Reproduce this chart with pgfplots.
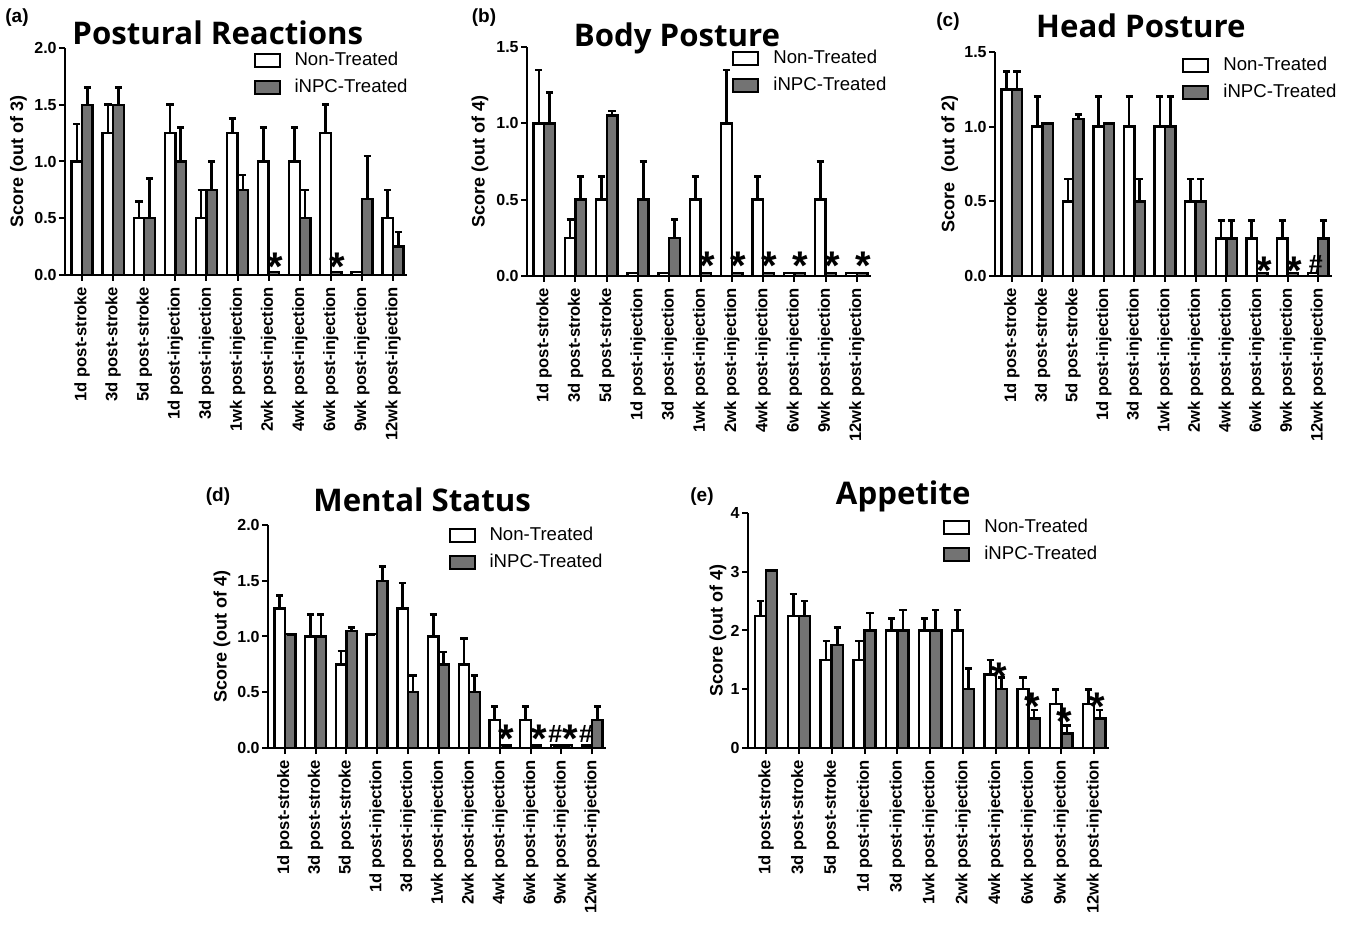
\documentclass[border=0pt]{standalone}
\usepackage{fontspec}
\setmainfont{Liberation Sans}
\newfontfamily\titlefont{Open Sans}
\usepackage{pgfplots}
\usepackage{pgfplotstable}
\pgfplotsset{compat=1.18}
\definecolor{barfill}{gray}{0.45}

% xn / xt: bar centres of the two groups around category x
\pgfplotstableread{
x xn xt nt nte t te
0 -0.17 0.17 1.00 0.33 1.50 0.15
1 0.83 1.17 1.25 0.25 1.50 0.15
2 1.83 2.17 0.50 0.15 0.50 0.35
3 2.83 3.17 1.25 0.25 1.00 0.30
4 3.83 4.17 0.50 0.25 0.75 0.25
5 4.83 5.17 1.25 0.13 0.75 0.13
6 5.83 6.17 1.00 0.30 0.025 0
7 6.83 7.17 1.00 0.30 0.50 0.25
8 7.83 8.17 1.25 0.25 0.025 0
9 8.83 9.17 0.025 0 0.67 0.38
10 9.83 10.17 0.50 0.25 0.25 0.13
}\tabA
\pgfplotstableread{
x xn xt nt nte t te
0 -0.17 0.17 1.00 0.35 1.00 0.20
1 0.83 1.17 0.25 0.12 0.50 0.15
2 1.83 2.17 0.50 0.15 1.05 0.03
3 2.83 3.17 0.02 0 0.50 0.25
4 3.83 4.17 0.02 0 0.25 0.12
5 4.83 5.17 0.50 0.15 0.02 0
6 5.83 6.17 1.00 0.35 0.02 0
7 6.83 7.17 0.50 0.15 0.02 0
8 7.83 8.17 0.02 0 0.02 0
9 8.83 9.17 0.50 0.25 0.02 0
10 9.83 10.17 0.02 0 0.02 0
}\tabB
\pgfplotstableread{
x xn xt nt nte t te
0 -0.17 0.17 1.25 0.12 1.25 0.12
1 0.83 1.17 1.00 0.20 1.02 0
2 1.83 2.17 0.50 0.15 1.05 0.03
3 2.83 3.17 1.00 0.20 1.02 0
4 3.83 4.17 1.00 0.20 0.50 0.15
5 4.83 5.17 1.00 0.20 1.00 0.20
6 5.83 6.17 0.50 0.15 0.50 0.15
7 6.83 7.17 0.25 0.12 0.25 0.12
8 7.83 8.17 0.25 0.12 0.02 0
9 8.83 9.17 0.25 0.12 0.02 0
10 9.83 10.17 0.02 0 0.25 0.12
}\tabC
\pgfplotstableread{
x xn xt nt nte t te
0 -0.17 0.17 1.25 0.12 1.02 0
1 0.83 1.17 1.00 0.20 1.00 0.20
2 1.83 2.17 0.75 0.12 1.05 0.03
3 2.83 3.17 1.02 0 1.50 0.13
4 3.83 4.17 1.25 0.23 0.50 0.15
5 4.83 5.17 1.00 0.20 0.75 0.11
6 5.83 6.17 0.75 0.23 0.50 0.15
7 6.83 7.17 0.25 0.12 0.025 0
8 7.83 8.17 0.25 0.12 0.025 0
9 8.83 9.17 0.025 0 0.025 0
10 9.83 10.17 0.025 0 0.25 0.12
}\tabD
\pgfplotstableread{
x xn xt nt nte t te
0 -0.17 0.17 2.25 0.25 3.02 0
1 0.83 1.17 2.25 0.37 2.25 0.25
2 1.83 2.17 1.50 0.32 1.75 0.30
3 2.83 3.17 1.50 0.32 2.00 0.30
4 3.83 4.17 2.00 0.20 2.00 0.35
5 4.83 5.17 2.00 0.20 2.00 0.35
6 5.83 6.17 2.00 0.35 1.00 0.35
7 6.83 7.17 1.25 0.25 1.00 0.20
8 7.83 8.17 1.00 0.20 0.50 0.15
9 8.83 9.17 0.75 0.25 0.25 0.13
10 9.83 10.17 0.75 0.25 0.50 0.15
}\tabE

\tikzset{
  astn/.style={font=\bfseries\fontsize{20}{20}\selectfont, inner sep=0pt, anchor=north},
  hashn/.style={font=\bfseries\fontsize{12.5}{12.5}\selectfont, inner sep=0pt, anchor=north},
  plab/.style={font=\bfseries\fontsize{9.5}{10}\selectfont, inner sep=0pt, anchor=center},
}
\pgfplotsset{
  every axis title shift=0pt,
  panel/.style={
    scale only axis, clip=false,
    axis x line*=bottom, axis y line*=left,
    xmin=-0.55, xmax=10.45, ymin=0,
    xtick={0,...,10},
    xticklabels={1d post-stroke,3d post-stroke,5d post-stroke,1d post-injection,3d post-injection,1wk post-injection,2wk post-injection,4wk post-injection,6wk post-injection,9wk post-injection,12wk post-injection},
    x tick label style={rotate=90, anchor=east, font=\bfseries\fontsize{8.3}{9}\selectfont, inner sep=2.75pt},
    y tick label style={font=\bfseries\fontsize{8}{9}\selectfont, inner sep=1pt},
    /pgf/number format/assume math mode=true,
    yticklabel style={/pgf/number format/.cd, fixed, fixed zerofill, precision=1},
    tick align=outside, major tick length=3pt,
    every tick/.style={black, line width=1pt},
    axis line style={line width=1.1pt},
    ylabel style={font=\bfseries\fontsize{9}{10}\selectfont, anchor=center},
    title style={font=\titlefont\bfseries\fontsize{15.6}{15.6}\selectfont, anchor=base},
    legend style={draw=none, fill=none, anchor=north west, inner sep=0pt,
      font=\fontsize{9.3}{10}\selectfont, row sep=3.2pt,
      nodes={inner sep=1pt},
      /tikz/every odd column/.append style={column sep=6pt}},
    legend cell align=left,
  },
  mylegend/.style={legend image code/.code={\draw[##1,line width=1pt] (0pt,-3.3pt) rectangle (12.5pt,3.3pt);}},
  ntbar/.style={ybar, bar width=0.34, bar shift=0, fill=white, draw=black, line width=1.2pt, mylegend},
  tbar/.style={ybar, bar width=0.34, bar shift=0, fill=barfill, draw=black, line width=1.2pt, mylegend},
  eb/.style={error bars/y dir=plus, error bars/y explicit, error bars/error mark=|,
    error bars/error bar style={line width=1.3pt, black, solid},
    error bars/error mark options={line width=1.3pt, mark size=1.8pt, black, solid}},
}

\begin{document}
\begin{tikzpicture}
% (a)
\begin{axis}[panel, at={(32.5pt,326pt)}, anchor=south west, width=171pt, height=113.5pt,
  ymax=2.0, ytick={0,0.5,...,2.0},
  ylabel={Score (out of 3)}, ylabel style={at={(axis description cs:-0.136,0.5)}},
  title={Postural Reactions}, title style={at={(axis description cs:0.447,1)}, yshift=1.5pt},
  legend style={at={(axis description cs:0.55,0.991)}}]
\addplot[ntbar, eb] table[x=xn, y=nt, y error=nte] {\tabA};
\addplot[tbar, eb] table[x=xt, y=t, y error=te] {\tabA};
\legend{Non-Treated, iNPC-Treated}
\node[astn] at (axis cs:6.2,0.194) {*};
\node[astn] at (axis cs:8.2,0.194) {*};
\node[plab, xshift=-24pt, yshift=15pt] at (axis description cs:0,1) {(a)};
\end{axis}
% (b)
\begin{axis}[panel, at={(263.5pt,325.5pt)}, anchor=south west, width=172pt, height=114.5pt,
  ymax=1.5, ytick={0,0.5,...,1.5},
  ylabel={Score (out of 4)}, ylabel style={at={(axis description cs:-0.137,0.5)}},
  title={Body Posture}, title style={at={(axis description cs:0.436,1)}, yshift=0pt},
  legend style={at={(axis description cs:0.596,0.996)}}]
\addplot[ntbar, eb] table[x=xn, y=nt, y error=nte] {\tabB};
\addplot[tbar, eb] table[x=xt, y=t, y error=te] {\tabB};
\legend{Non-Treated, iNPC-Treated}
\node[astn] at (axis cs:5.2,0.157) {*};
\node[astn] at (axis cs:6.2,0.157) {*};
\node[astn] at (axis cs:7.2,0.157) {*};
\node[astn] at (axis cs:8.2,0.157) {*};
\node[astn] at (axis cs:9.2,0.157) {*};
\node[astn] at (axis cs:10.2,0.157) {*};
\node[plab, xshift=-21.5pt, yshift=14.5pt] at (axis description cs:0,1) {(b)};
\end{axis}
% (c)
\begin{axis}[panel, at={(497.5pt,325.5pt)}, anchor=south west, width=168.5pt, height=112pt,
  ymax=1.5, ytick={0,0.5,...,1.5},
  ylabel={Score\ \ (out of 2)}, ylabel style={at={(axis description cs:-0.134,0.5)}},
  title={Head Posture}, title style={at={(axis description cs:0.433,1)}, yshift=7pt},
  legend style={at={(axis description cs:0.555,0.987)}}]
\addplot[ntbar, eb] table[x=xn, y=nt, y error=nte] {\tabC};
\addplot[tbar, eb] table[x=xt, y=t, y error=te] {\tabC};
\legend{Non-Treated, iNPC-Treated}
\node[astn] at (axis cs:8.25,0.127) {*};
\node[astn] at (axis cs:9.22,0.127) {*};
\node[hashn] at (axis cs:9.92,0.14) {\#};
\node[plab, xshift=-23.5pt, yshift=15pt] at (axis description cs:0,1) {(c)};
\end{axis}
% (d)
\begin{axis}[panel, at={(134pt,89.5pt)}, anchor=south west, width=169pt, height=111.5pt,
  ymax=2.0, ytick={0,0.5,...,2.0},
  ylabel={Score (out of 4)}, ylabel style={at={(axis description cs:-0.136,0.5)}},
  title={Mental Status}, title style={at={(axis description cs:0.456,1)}, yshift=6.5pt},
  legend style={at={(axis description cs:0.533,1.0)}}]
\addplot[ntbar, eb] table[x=xn, y=nt, y error=nte] {\tabD};
\addplot[tbar, eb] table[x=xt, y=t, y error=te] {\tabD};
\legend{Non-Treated, iNPC-Treated}
\node[astn] at (axis cs:7.2,0.206) {*};
\node[astn] at (axis cs:8.28,0.206) {*};
\node[hashn] at (axis cs:8.8,0.206) {\#};
\node[astn] at (axis cs:9.28,0.206) {*};
\node[hashn] at (axis cs:9.8,0.206) {\#};
\node[plab, xshift=-25pt, yshift=14pt] at (axis description cs:0,1) {(d)};
\end{axis}
% (e)
\begin{axis}[panel, at={(374pt,89.5pt)}, anchor=south west, width=180.5pt, height=117.5pt,
  ymax=4, ytick={0,1,2,3,4}, yticklabel style={/pgf/number format/.cd, fixed, precision=0},
  ylabel={Score (out of 4)}, ylabel style={at={(axis description cs:-0.083,0.5)}},
  title={Appetite}, title style={at={(axis description cs:0.43,1)}, yshift=4pt},
  legend style={at={(axis description cs:0.54,0.983)}}]
\addplot[ntbar, eb] table[x=xn, y=nt, y error=nte] {\tabE};
\addplot[tbar, eb] table[x=xt, y=t, y error=te] {\tabE};
\legend{Non-Treated, iNPC-Treated}
\node[astn] at (axis cs:7.12,1.46) {*};
\node[astn] at (axis cs:8.12,0.94) {*};
\node[astn] at (axis cs:9.1,0.68) {*};
\node[astn] at (axis cs:10.1,0.94) {*};
\node[plab, xshift=-23pt, yshift=8pt] at (axis description cs:0,1) {(e)};
\end{axis}
\pgfresetboundingbox
\useasboundingbox (0,0) rectangle (673pt,463.5pt);
\end{tikzpicture}
\end{document}
